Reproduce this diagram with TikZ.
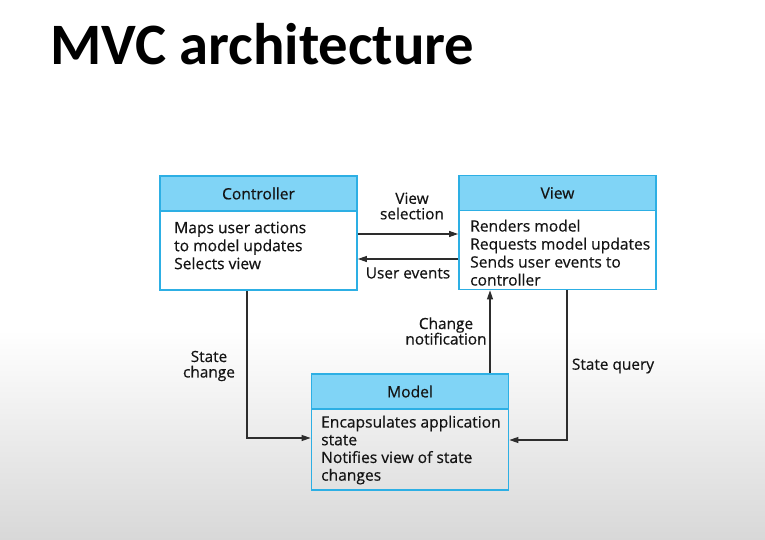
\documentclass[tikz,border=0pt]{standalone}
\usepackage{fontspec}
\setmainfont{Open Sans}
\newfontface\bodyface{Open Sans}[FakeBold=0.5]
\newfontfamily\titlefont{Carlito}
\usetikzlibrary{arrows.meta}

\definecolor{boxedge}{RGB}{45,175,228}
\definecolor{headfill}{RGB}{128,212,246}
\definecolor{ink}{RGB}{20,20,20}
\definecolor{wire}{RGB}{45,45,45}
\definecolor{floor}{RGB}{216,216,216}

\tikzset{
  box/.style={draw=boxedge, line width=1.8pt, minimum width=197pt, minimum height=114pt, inner sep=0pt},
  head/.style={draw=boxedge, line width=1.8pt, fill=headfill, minimum width=197pt, minimum height=35pt,
               inner sep=0pt, text=ink, font=\bodyface\fontsize{15.6}{18}\selectfont},
  body/.style={anchor=north west, inner sep=0pt, align=left, text=ink, font=\bodyface\fontsize{15.6}{18}\selectfont},
  lbl/.style={inner sep=0pt, align=center, text=ink, font=\bodyface\fontsize{15.4}{15.5}\selectfont},
  arr/.style={draw=wire, line width=1.1pt, -{Triangle[length=9pt,width=6pt]}},
}

\begin{document}
\begin{tikzpicture}[x=1pt,y=-1pt]
  % page and soft floor gradient
  \fill[white] (0,0) rectangle (765,540);
  \shade[top color=white, bottom color=floor] (0,330) rectangle (765,540);
  \useasboundingbox (0,0) rectangle (765,540);

  % title
  \node[anchor=base west, inner sep=0pt, text=black,
        font=\titlefont\bfseries\fontsize{58.7}{60}\selectfont] (title) at (50,65) {MVC architecture};

  % Controller
  \node[box] (ctrl) at (258.5,233) {};
  \node[head, anchor=north] (ctrlh) at (ctrl.north) {Controller};
  \node[body] (ctrlb) at (174,221.5) {Maps user actions\\to model updates\\Selects view};

  % View
  \node[box] (view) at (557.5,232.5) {};
  \node[head, anchor=north] (viewh) at (view.north) {View};
  \node[body] (viewb) at (470,219.5) {Renders model\\Requests model updates\\Sends user events to\\controller};

  % Model
  \node[box, minimum height=116pt] (model) at (410,432) {};
  \node[head, anchor=north] (modelh) at (model.north) {Model};
  \node[body, font=\bodyface\fontsize{15.6}{17.7}\selectfont] (modelb) at (321,415.5) {Encapsulates application\\state\\Notifies view of state\\changes};

  % connector positions
  \coordinate (vs) at (0,234);
  \coordinate (ue) at (0,259);
  \coordinate (sc) at (247,438);
  \coordinate (cn) at (490,0);
  \coordinate (sq) at (567,440);

  % connectors
  \draw[arr] (ctrl.east |- vs) -- (view.west |- vs);
  \draw[arr] (view.west |- ue) -- (ctrl.east |- ue);
  \draw[arr] (ctrl.south -| sc) |- (model.west |- sc);
  \draw[arr] (model.north -| cn) -- (view.south -| cn);
  \draw[arr] (view.south -| sq) |- (model.east |- sq);

  % connector labels
  \node[lbl] (lvs) at (412,206) {View\\selection};
  \node[lbl] (lue) at (408,273) {User events};
  \node[lbl] (lsc) at (209,366) {State\\change};
  \node[lbl] (lcn) at (446,331) {Change\\notification};
  \node[lbl] (lsq) at (613,366) {State query};
\end{tikzpicture}
\end{document}
